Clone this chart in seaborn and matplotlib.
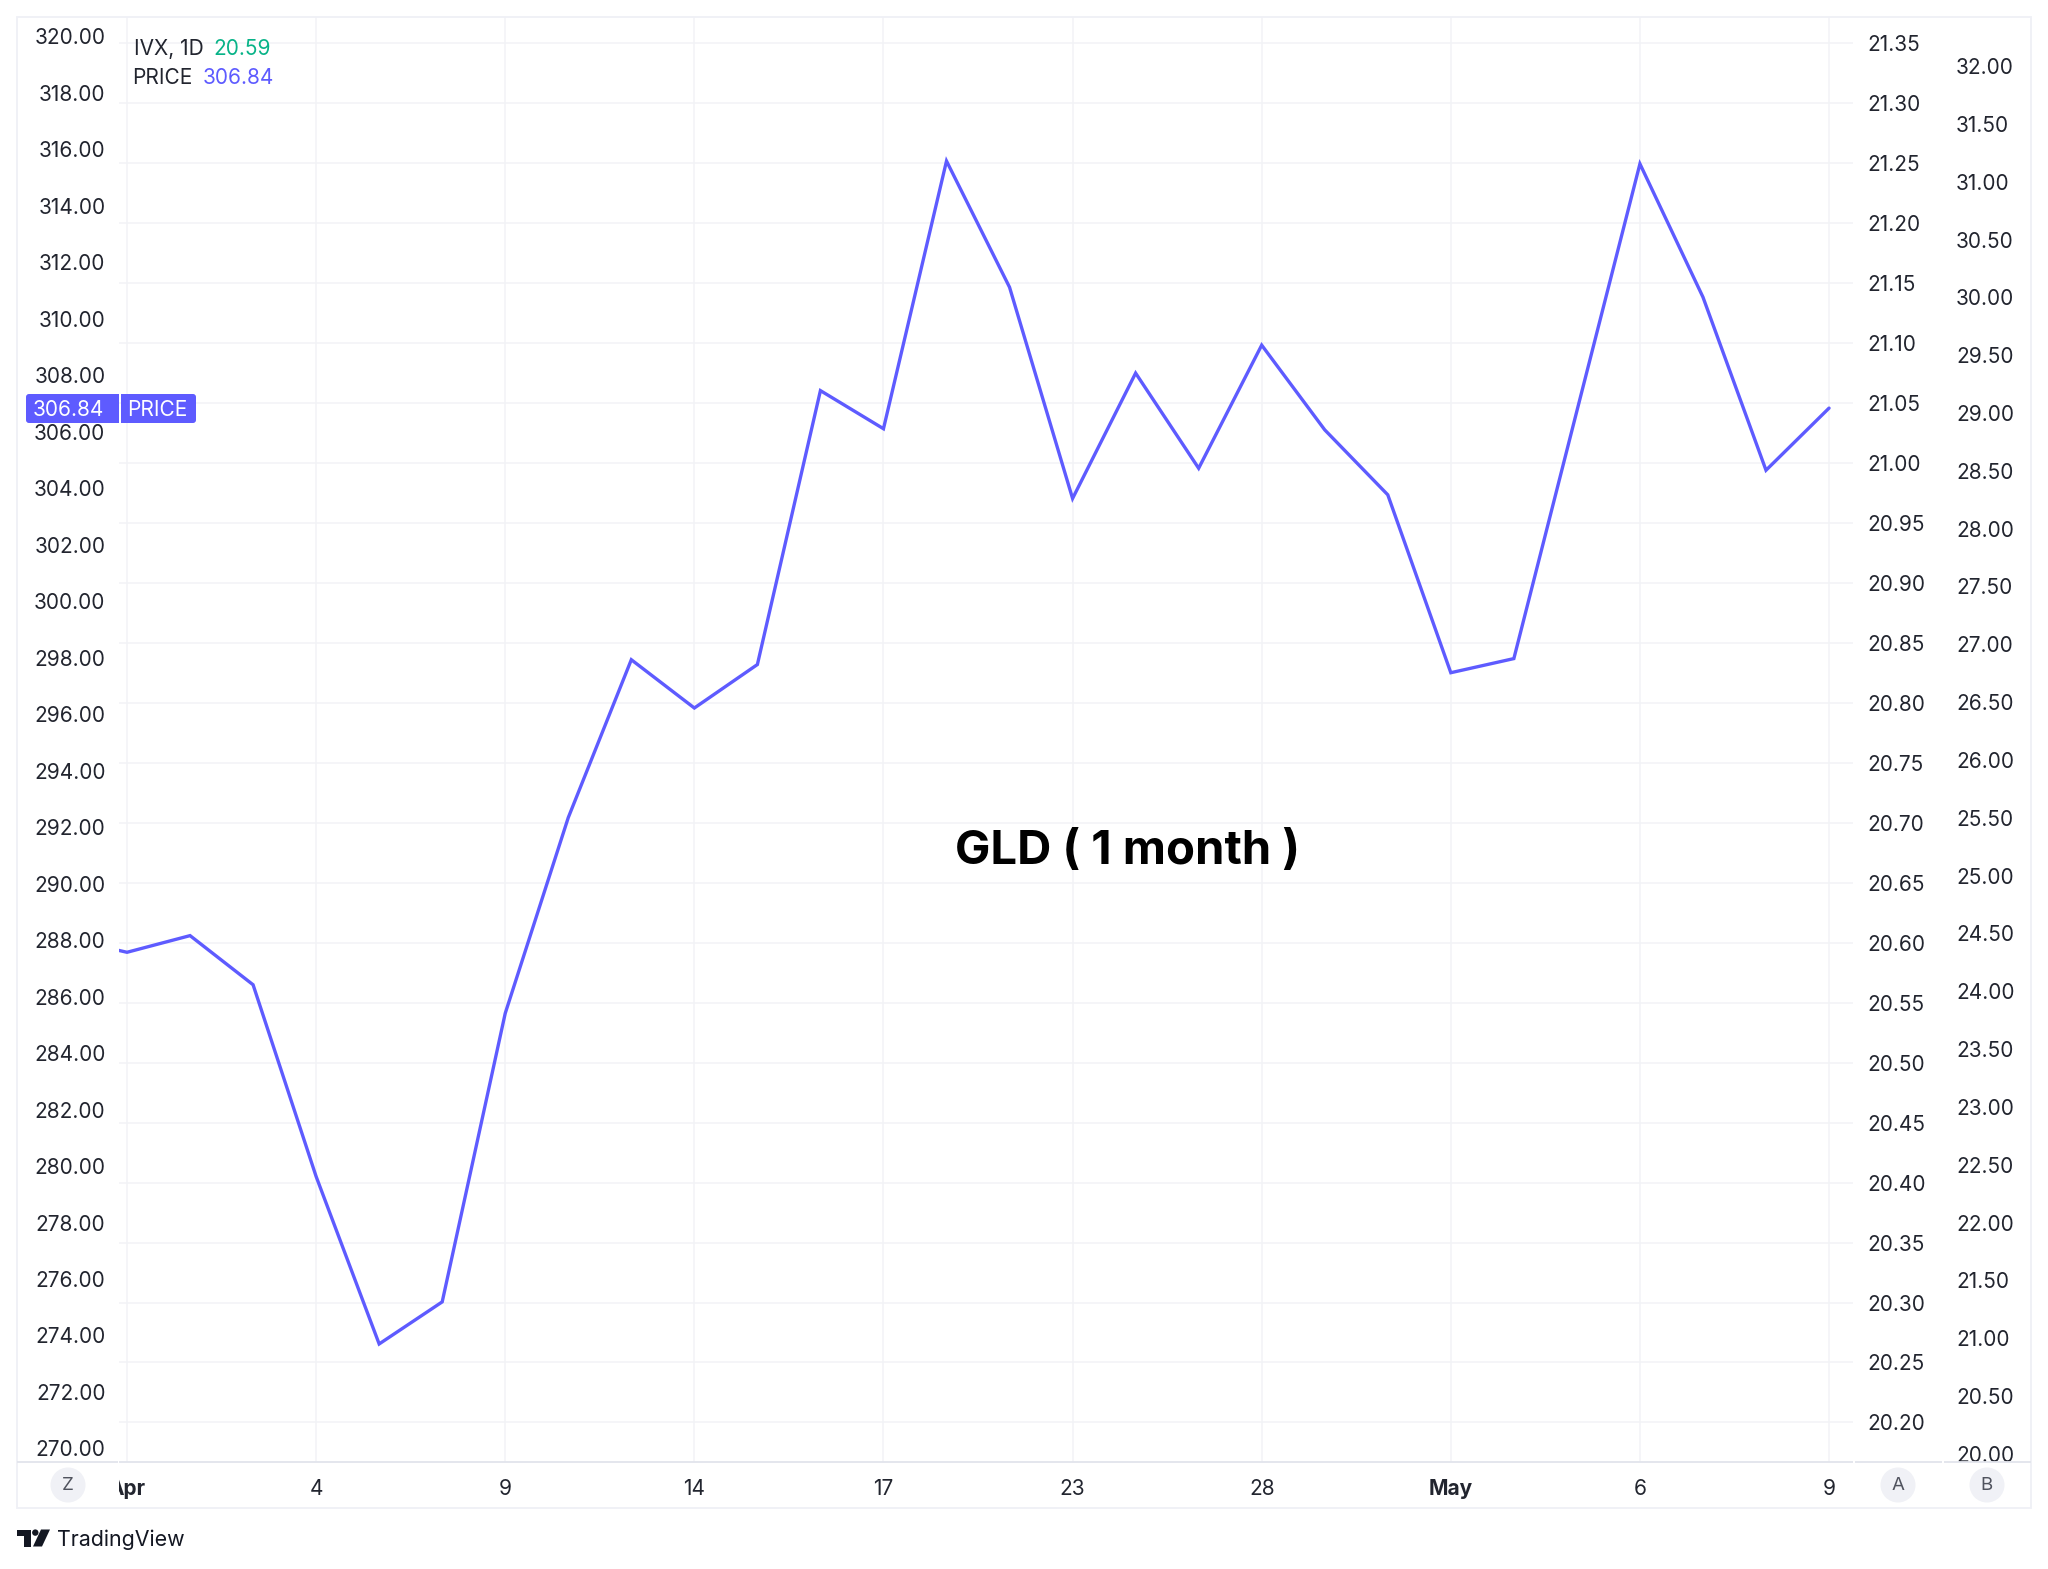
import matplotlib
matplotlib.use("Agg")
import matplotlib.pyplot as plt
import seaborn as sns
from matplotlib.patches import Rectangle, FancyBboxPatch, Circle, Polygon
from matplotlib.lines import Line2D
from matplotlib.transforms import Bbox

# ---- data ----
session_index = list(range(-1, 28))
price = [288.08, 287.57, 288.16, 286.42, 279.63, 273.70, 275.19, 285.41, 292.34, 297.93,
         296.22, 297.76, 307.46, 306.11, 315.59, 311.12, 303.64, 308.08, 304.71, 309.07,
         306.07, 303.77, 297.47, 297.97, 306.74, 315.49, 310.77, 304.64, 306.84]
time_ticks = [0, 3, 6, 9, 12, 15, 18, 21, 24, 27]
time_labels = ["Apr", "4", "9", "14", "17", "23", "28", "May", "6", "9"]
left_ticks = [270 + 2 * k for k in range(26)]
scale_a_ticks = [20.20 + 0.05 * k for k in range(24)]
scale_b_ticks = [20.0 + 0.5 * k for k in range(25)]
ivx_last = 20.59
price_last = 306.84

# ---- style ----
W, H = 2048, 1569
sns.set_style("white")
plt.rcParams["font.family"] = ["Inter", "DejaVu Sans"]
LINE = "#5e5bff"
TEXT = "#22252f"
GRID = "#f2f3f6"
EDGE = "#eff0f6"
AXLINE = "#e2e4ec"
FS = 15

fig = plt.figure(figsize=(W / 100, H / 100), dpi=100, facecolor="white")
L, R, T, B = 119, 1853, 17, 1462
rect = [L / W, (H - B) / H, (R - L) / W, (B - T) / H]

ax = fig.add_axes(rect)
ax_a = ax.twinx()
ax_b = ax.twinx()

sns.lineplot(x=session_index, y=price, ax=ax, color=LINE, linewidth=2.4, zorder=5,
             errorbar=None, solid_joinstyle="miter", solid_capstyle="round")

# scales
ax.set_xlim(-0.127, 27.38)
ax.set_ylim(269.52, 320.69)
ax_a.set_ylim(20.167, 21.372)
ax_b.set_ylim(19.93, 32.424)
ax.set_xlabel("")
ax.set_ylabel("")

# layering: the line above the gridlines of scale A
ax_a.set_zorder(1)
ax_b.set_zorder(2)
ax.set_zorder(3)
ax.patch.set_visible(False)
ax_b.patch.set_visible(False)
ax_a.patch.set_facecolor("white")

for a in (ax, ax_a, ax_b):
    for s in a.spines.values():
        s.set_visible(False)

ax.set_xticks(time_ticks, time_labels)
ax.set_yticks(left_ticks, [f"{v:.2f}" for v in left_ticks])
ax_a.set_yticks(scale_a_ticks, [f"{v:.2f}" for v in scale_a_ticks])
ax_b.set_yticks(scale_b_ticks, [f"{v:.2f}" for v in scale_b_ticks])

ax.tick_params(axis="x", length=0, pad=12.5, labelsize=FS, labelcolor=TEXT)
ax.tick_params(axis="y", length=0, pad=9.8, labelsize=FS, labelcolor=TEXT)
ax_a.tick_params(axis="y", length=0, pad=10.6, labelsize=FS, labelcolor=TEXT)
ax_b.tick_params(axis="y", length=0, pad=74.2, labelsize=FS, labelcolor=TEXT)

ax.grid(True, axis="x", color=GRID, linewidth=1.1)
ax.grid(False, axis="y")
ax_a.grid(True, axis="y", color=GRID, linewidth=1.1)
ax_b.grid(False)

# bold month labels; the first one is cut by the price scale column
clip_time = Bbox([[L, 0], [R + 60, H]])
for lab in ax.get_xticklabels():
    if lab.get_text() in ("Apr", "May"):
        lab.set_fontweight("bold")
    lab.set_clip_on(True)
    lab.set_clip_box(clip_time)
clip_scale = Bbox([[0, H - B], [W, H]])
for lab in ax_b.get_yticklabels():
    lab.set_clip_on(True)
    lab.set_clip_box(clip_scale)

# ---- overlay in pixel coordinates: frame, badges, buttons, logo ----
px = fig.add_axes([0, 0, 1, 1], zorder=10)
px.set_xlim(0, W)
px.set_ylim(H, 0)
px.axis("off")
px.patch.set_visible(False)

px.add_patch(Rectangle((17, 17), 2031 - 17, 1508 - 17, fill=False, edgecolor=EDGE, linewidth=1.3))
for x0, x1 in [(17, 118), (119, 1853), (1855, 1942), (1944, 2031)]:
    px.add_line(Line2D([x0, x1], [1462, 1462], color=AXLINE, linewidth=1.3, solid_capstyle="butt"))

# price badge
for x0, x1 in [(26, 119), (121, 196)]:
    px.add_patch(FancyBboxPatch((x0 + 3, 397), x1 - x0 - 6, 23,
                                boxstyle="round,pad=3,rounding_size=3",
                                facecolor=LINE, edgecolor="none"))
px.add_patch(Rectangle((110, 394), 9, 29, facecolor=LINE, edgecolor="none"))
px.add_patch(Rectangle((121, 394), 9, 29, facecolor=LINE, edgecolor="none"))
px.text(104.5, 409.5, f"{price_last:.2f}", color="white", fontsize=FS, ha="right", va="center")
px.text(127.5, 409.5, "PRICE", color="white", fontsize=FS, ha="left", va="center")

# legend
px.text(133.5, 49, "IVX, 1D", color=TEXT, fontsize=FS, ha="left", va="center")
px.text(213, 49, f"{ivx_last:.2f}", color="#08b388", fontsize=FS, ha="left", va="center")
px.text(132.5, 78, "PRICE", color=TEXT, fontsize=FS, ha="left", va="center")
px.text(203, 78, f"{price_last:.2f}", color=LINE, fontsize=FS, ha="left", va="center")

# caption in the chart
px.text(1127.5, 852, "GLD ( 1 month )", color="black", fontsize=34, fontweight="bold",
        ha="center", va="center")

# scale buttons
for cx, letter in [(68, "Z"), (1898, "A"), (1987, "B")]:
    px.add_patch(Circle((cx, 1485), 17.5, facecolor="#f0f1f6", edgecolor="none"))
    px.text(cx, 1485.5, letter, color="#50535e", fontsize=13.5, ha="center", va="center")

# TradingView mark and name
LOGO = "#131722"
px.add_patch(Polygon([(17, 1529.5), (31, 1529.5), (31, 1546.5), (24, 1546.5), (24, 1536), (17, 1536)],
                     closed=True, facecolor=LOGO, edgecolor="none"))
px.add_patch(Circle((35.3, 1532.6), 3.2, facecolor=LOGO, edgecolor="none"))
px.add_patch(Polygon([(41, 1529.5), (50, 1529.5), (42, 1546.5), (33, 1546.5)],
                     closed=True, facecolor=LOGO, edgecolor="none"))
px.text(57, 1539.5, "TradingView", color=LOGO, fontsize=15.4, ha="left", va="center")

fig.savefig("out.png", dpi=100, facecolor="white")
